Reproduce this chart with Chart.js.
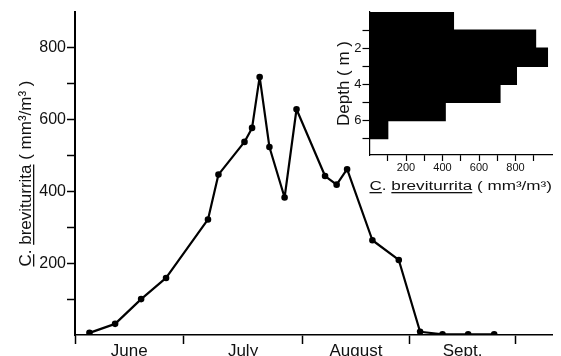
<!DOCTYPE html>
<html>
<head>
<meta charset="utf-8">
<script src="https://cdn.jsdelivr.net/npm/chart.js@4.4.1/dist/chart.umd.min.js"></script>
<style>
  body { margin: 0; background: #fff; }
  #wrap { position: relative; width: 561px; height: 356px; }
  #main { position: absolute; left: 0; top: 0; }
  #inset { position: absolute; left: 330px; top: 0; }
</style>
</head>
<body>
<div id="wrap">
  <canvas id="main" width="561" height="356"></canvas>
  <canvas id="inset" width="231" height="200"></canvas>
</div>
<script>
// seasonal curve: sampling day (days after 1 June) and biovolume (mm3/m3)
const sampleDays = [4, 11.1, 18.3, 25.2, 36.8, 39.7, 46.9, 49, 51.1, 53.8, 58, 61.3, 69.2, 72.4, 75.3, 82.3, 89.6, 95.5, 101.7, 108.8, 116];
const biovolume = [6, 31, 100, 159, 322, 447, 538, 577, 719, 524, 383, 629, 443, 419, 462, 264, 209, 9, 2, 2, 2];
const monthStarts = [0, 30, 63, 92.5, 122];
const monthNames = ['June', 'July', 'August', 'Sept.'];
const yLabels = [200, 400, 600, 800];

// inset: depth profile
const depthMid = [0.5, 1.5, 2.5, 3.5, 4.5, 5.5, 6.5];
const depthValues = [460, 910, 975, 805, 715, 415, 100];
const depthLabels = [2, 4, 6];
const insetXLabels = [200, 400, 600, 800];

const FONT = "'Liberation Sans', Arial, sans-serif";
const INK = '#111';
const NONE = 'rgba(0,0,0,0)';

// month names sit half way between the month ticks
const monthMids = monthNames.map((n, i) => (monthStarts[i] + monthStarts[i + 1]) / 2);
const xTickValues = monthStarts.concat(monthMids).sort((a, b) => a - b);

const tickVal = c => (c.tick ? c.tick.value : NaN);

// text with some parts underlined, centred on the origin, baseline at y=0
function drawParts(ctx, parts) {
    const total = parts.reduce((s, p) => s + ctx.measureText(p.t).width, 0);
    let x = -total / 2;
    parts.forEach(p => {
        const w = ctx.measureText(p.t).width;
        ctx.fillText(p.t, x, 0);
        if (p.u) ctx.fillRect(x, 2, w, 1.3);
        x += w;
    });
    return total;
}

const yTitle = {
    id: 'yTitle',
    afterDraw(chart) {
        const ctx = chart.ctx;
        const a = chart.chartArea;
        ctx.save();
        ctx.fillStyle = INK;
        ctx.font = '17px ' + FONT;
        ctx.textAlign = 'left';
        ctx.textBaseline = 'alphabetic';
        ctx.translate(31, (a.top + a.bottom) / 2);
        ctx.rotate(-Math.PI / 2);
        drawParts(ctx, [
            { t: 'C', u: true }, { t: '. ', u: false },
            { t: 'breviturrita', u: true }, { t: ' ( mm\u00B3/m\u00B3 )', u: false }
        ]);
        ctx.restore();
    }
};

const insetTitle = {
    id: 'insetTitle',
    afterDraw(chart) {
        const ctx = chart.ctx;
        const a = chart.chartArea;
        const parts = [
            { t: 'C', u: true }, { t: '. ', u: false },
            { t: 'breviturrita', u: true }, { t: ' ( mm\u00B3/m\u00B3)', u: false }
        ];
        ctx.save();
        ctx.fillStyle = INK;
        ctx.font = '12px ' + FONT;
        ctx.textAlign = 'left';
        ctx.textBaseline = 'alphabetic';
        const w = parts.reduce((s, p) => s + ctx.measureText(p.t).width, 0);
        ctx.translate((a.left + a.right) / 2, a.bottom + 35);
        ctx.scale((a.right - a.left) / w, 1);
        drawParts(ctx, parts);
        ctx.restore();
    }
};

new Chart(document.getElementById('main'), {
    type: 'line',
    data: {
        datasets: [{
            data: sampleDays.map((d, i) => ({ x: d, y: biovolume[i] })),
            borderColor: '#000',
            backgroundColor: '#000',
            borderWidth: 2.2,
            borderJoinStyle: 'round',
            pointRadius: 2.2,
            pointHoverRadius: 2.2,
            tension: 0
        }]
    },
    options: {
        responsive: false,
        animation: false,
        layout: { padding: { top: 12, right: 9, left: 0, bottom: 0 } },
        plugins: { legend: { display: false }, tooltip: { enabled: false } },
        scales: {
            x: {
                type: 'linear',
                min: 0,
                max: 132,
                afterBuildTicks: s => { s.ticks = xTickValues.map(v => ({ value: v })); },
                afterFit: s => { s.height = 21; },
                grid: {
                    drawOnChartArea: false,
                    tickLength: 9,
                    tickWidth: 1.5,
                    tickColor: c => monthStarts.includes(tickVal(c)) ? '#000' : NONE
                },
                border: { color: '#000', width: 1.6 },
                ticks: {
                    autoSkip: false,
                    maxRotation: 0,
                    padding: -3,
                    color: INK,
                    font: { family: FONT, size: 17 },
                    callback: v => {
                        const i = monthMids.indexOf(v);
                        return i >= 0 ? monthNames[i] : '';
                    }
                }
            },
            y: {
                min: 0,
                max: 900,
                afterFit: s => { s.width = 75; },
                grid: {
                    drawOnChartArea: false,
                    tickLength: 8,
                    tickWidth: 1.5,
                    tickColor: c => (tickVal(c) > 0 && tickVal(c) < 900) ? '#000' : NONE
                },
                border: { color: '#000', width: 2 },
                ticks: {
                    stepSize: 100,
                    padding: 1,
                    color: INK,
                    font: { family: FONT, size: 16 },
                    callback: v => yLabels.includes(v) ? v : ''
                }
            }
        }
    },
    plugins: [yTitle]
});

new Chart(document.getElementById('inset'), {
    type: 'bar',
    data: {
        datasets: [{
            data: depthMid.map((d, i) => ({ x: depthValues[i], y: d })),
            backgroundColor: '#000',
            borderWidth: 0,
            inflateAmount: 0.6,
            barPercentage: 1,
            categoryPercentage: 1
        }]
    },
    options: {
        indexAxis: 'y',
        responsive: false,
        animation: false,
        layout: { padding: { top: 12, right: 9, left: 0, bottom: 0 } },
        plugins: { legend: { display: false }, tooltip: { enabled: false } },
        scales: {
            x: {
                type: 'linear',
                min: 0,
                max: 1000,
                afterFit: s => { s.height = 45; },
                grid: {
                    drawOnChartArea: false,
                    tickLength: 6,
                    tickWidth: 1.2,
                    tickColor: c => (tickVal(c) > 0 && tickVal(c) < 1000) ? '#000' : NONE
                },
                border: { color: '#000', width: 1.2 },
                ticks: {
                    stepSize: 100,
                    autoSkip: false,
                    maxRotation: 0,
                    padding: 0,
                    color: INK,
                    font: { family: FONT, size: 11 },
                    callback: v => insetXLabels.includes(v) ? v : ''
                }
            },
            y: {
                type: 'linear',
                reverse: true,
                offset: false,
                min: 0,
                max: 7.9,
                // whole metres only, so the bars fill each 1 m band
                afterBuildTicks: s => { s.ticks = s.ticks.filter(t => Number.isInteger(t.value)); },
                afterFit: s => { s.width = 39.5; },
                grid: {
                    offset: false,
                    drawOnChartArea: false,
                    tickLength: 7,
                    tickWidth: 1.2,
                    tickColor: c => tickVal(c) > 0 ? '#000' : NONE
                },
                border: { color: '#000', width: 1.2 },
                title: {
                    display: true,
                    text: 'Depth ( m )',
                    color: INK,
                    font: { family: FONT, size: 17 },
                    padding: { top: 4, bottom: 0 }
                },
                ticks: {
                    stepSize: 1,
                    padding: 1,
                    color: INK,
                    font: { family: FONT, size: 13 },
                    callback: v => depthLabels.includes(v) ? v : ''
                }
            }
        }
    },
    plugins: [insetTitle]
});
</script>
</body>
</html>
